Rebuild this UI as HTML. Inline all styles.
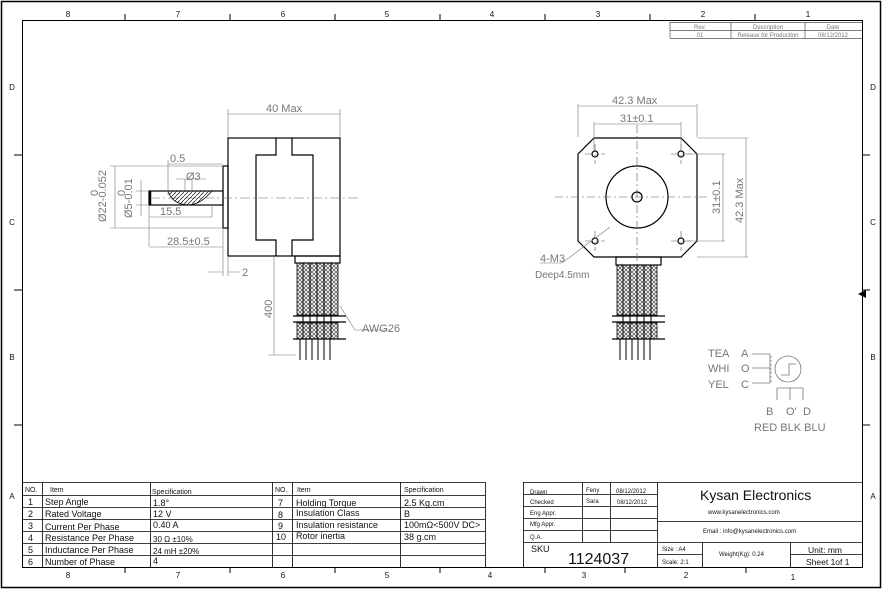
<!DOCTYPE html>
<html><head><meta charset="utf-8"><style>
html,body{margin:0;padding:0;background:#fff}
svg{display:block}
text{font-family:"Liberation Sans",sans-serif}
.g{fill:#777}
.k{fill:#111}
</style></head><body>
<svg width="883" height="589" viewBox="0 0 883 589" xmlns="http://www.w3.org/2000/svg">
<defs>
<pattern id="xh" width="4" height="4" patternUnits="userSpaceOnUse">
<path d="M0 0L4 4M4 0L0 4" stroke="#444" stroke-width="0.7"/>
</pattern>
<pattern id="hh" width="4" height="4" patternUnits="userSpaceOnUse">
<path d="M0 4L4 0" stroke="#333" stroke-width="0.8"/>
</pattern>
</defs>
<rect x="1.5" y="1.5" width="879" height="586" fill="none" stroke="#000" stroke-width="1.5"/>
<rect x="22.5" y="20.5" width="840" height="547" fill="none" stroke="#000" stroke-width="1"/>
<g font-size="8" class="k" text-anchor="middle">
<text x="68" y="17">8</text><text x="178" y="17">7</text><text x="283" y="17">6</text><text x="387" y="17">5</text><text x="492" y="17">4</text><text x="598" y="17">3</text><text x="703" y="17">2</text><text x="808" y="17">1</text>
<text x="68" y="578">8</text><text x="178" y="578">7</text><text x="283" y="578">6</text><text x="387" y="578">5</text><text x="490" y="578">4</text><text x="584" y="578">3</text><text x="686" y="578">2</text><text x="793" y="580">1</text>
<text x="12" y="90">D</text><text x="12" y="225">C</text><text x="12" y="360">B</text><text x="12" y="499">A</text>
<text x="873" y="90">D</text><text x="873" y="225">C</text><text x="873" y="360">B</text><text x="873" y="499">A</text>
</g>
<g stroke="#000" stroke-width="1">
<path d="M125 14V20M230 14V20M335 14V20M440 14V20M545 14V20M650 14V20M755 14V20"/>
<path d="M125 567V573M230 567V573M335 567V573M440 567V573M545 567V573M625 567V573M746 567V573"/>
<path d="M14 155H22M14 290H22M14 425H22M862 155H870M862 290H870M862 425H870"/>
</g>
<g stroke="#555" stroke-width="0.7" fill="none">
<path d="M670 22.5H862M670 30.5H862M670 38.5H862M670 22V38M731 22V38M805 22V38"/>
</g>
<g font-size="6" class="g" text-anchor="middle">
<text x="700" y="29">Rev.</text><text x="768" y="29">Description</text><text x="833" y="29">Date</text>
<text x="700" y="37">01</text><text x="768" y="37">Release for Production</text><text x="833" y="37">08/12/2012</text>
</g>

<g stroke="#000" stroke-width="1.2" fill="none">
<rect x="228" y="138" width="112" height="118"/>
<path d="M276 138V155H256V240H276V256M292 138V155H313V240H292V256"/>
<rect x="223" y="166" width="5" height="62"/>
<rect x="149" y="191" width="74" height="14"/>
<path d="M150 191V205" stroke-width="2.5"/>
<rect x="295" y="256" width="45" height="7"/>
</g>
<path d="M168 191H212Q200 205 188 205Q172 204 168 191Z" fill="url(#hh)" stroke="#000" stroke-width="0.8"/>
<path d="M150 198H360" stroke="#666" stroke-width="0.6" stroke-dasharray="10 3 2 3"/>
<g>
<rect x="297" y="263" width="41" height="52" fill="url(#xh)" stroke="#000" stroke-width="0.8"/>
<rect x="297" y="323" width="41" height="16" fill="url(#xh)" stroke="#000" stroke-width="0.8"/>
<path d="M303 263V339M310 263V339M317 263V339M324 263V339M331 263V339" stroke="#000" stroke-width="1"/>
<path d="M293 316H346M293 322H346M293 339H346" stroke="#000" stroke-width="1.2"/>
<path d="M300 339V360M306 339V360M312 339V360M318 339V360M324 339V360M330 339V360" stroke="#000" stroke-width="1"/>
</g>
<g stroke="#777" stroke-width="0.6" fill="none">
<path d="M228 109V137M340 109V137M228 114H340"/>
<path d="M168 160V195M168 164H223"/>
<path d="M176 179H206M185 179V190M192 179V190"/>
<path d="M149 206V246M212 205V217M149 217H212"/>
<path d="M223 229V276M228 257V276M149 247H223"/>
<path d="M208 272H223M228 272H240"/>
<path d="M110 166H223M110 228H223M115 166V228"/>
<path d="M136 191H149M136 205H149M141 180V216"/>
<path d="M274 257V355M268 355H296"/>
<path d="M340 306L355 330H390"/>
</g>
<g font-size="11" class="g">
<text x="266" y="112">40 Max</text>
<text x="170" y="162">0.5</text>
<text x="186" y="180">Ø3</text>
<text x="160" y="215">15.5</text>
<text x="167" y="245">28.5±0.5</text>
<text x="242" y="276">2</text>
<text x="362" y="332">AWG26</text>
<text transform="translate(272 318) rotate(-90)">400</text>
<text transform="translate(106 222) rotate(-90)">Ø22-0.052</text>
<text transform="translate(98 196) rotate(-90)">0</text>
<text transform="translate(132 218) rotate(-90)">Ø5-0.01</text>
<text transform="translate(125 196) rotate(-90)">0</text>
</g>

<g stroke="#000" stroke-width="1.2" fill="none">
<path d="M594 138H681L697 154V241L681 257H594L578 241V154Z"/>
<circle cx="637" cy="197" r="31"/>
<circle cx="637" cy="197" r="5"/>
<circle cx="595" cy="154" r="3"/><circle cx="681" cy="154" r="3"/>
<circle cx="595" cy="241" r="3"/><circle cx="681" cy="241" r="3"/>
<rect x="616" y="257" width="45" height="8"/>
</g>
<g stroke="#555" stroke-width="0.6" stroke-dasharray="8 3 2 3" fill="none">
<path d="M555 197H708M637 125V270"/>
<path d="M585 154H605M595 144V164M671 154H691M681 144V164M585 241H605M595 231V251M671 241H691M681 231V251"/>
</g>
<g>
<rect x="617" y="265" width="40" height="50" fill="url(#xh)" stroke="#000" stroke-width="0.8"/>
<rect x="617" y="323" width="40" height="16" fill="url(#xh)" stroke="#000" stroke-width="0.8"/>
<path d="M623 265V339M630 265V339M637 265V339M644 265V339M651 265V339" stroke="#000" stroke-width="1"/>
<path d="M612 316H665M612 322H665M612 339H665" stroke="#000" stroke-width="1.2"/>
<path d="M620 339V360M626 339V360M632 339V360M638 339V360M644 339V360M650 339V360" stroke="#000" stroke-width="1"/>
</g>
<g stroke="#777" stroke-width="0.6" fill="none">
<path d="M578 104V137M697 104V137M578 106H697"/>
<path d="M594 122V150M681 122V150M594 124H681"/>
<path d="M685 154H725M685 241H725M723 154V241"/>
<path d="M697 138H748M697 257H748M746 138V257"/>
<path d="M540 263H562L610 227"/>
</g>
<g font-size="11" class="g">
<text x="612" y="104">42.3 Max</text>
<text x="620" y="122">31±0.1</text>
<text transform="translate(720 214) rotate(-90)">31±0.1</text>
<text transform="translate(743 223) rotate(-90)">42.3 Max</text>
<text x="540" y="262">4-M3</text>
<text x="535" y="278" font-family="Liberation Mono,monospace" font-size="10">Deep4.5mm</text>
</g>

<g font-size="11" class="g">
<text x="708" y="357">TEA</text><text x="741" y="357">A</text>
<text x="708" y="372">WHI</text><text x="741" y="372">O</text>
<text x="708" y="388">YEL</text><text x="741" y="388">C</text>
<text x="766" y="415">B</text><text x="786" y="415">O'</text><text x="803" y="415">D</text>
<text x="754" y="431">RED BLK BLU</text>
</g>
<g stroke="#777" stroke-width="0.8" fill="none">
<path d="M752 354H770M752 368H770M752 383H770M770 354V383"/>
<path d="M770 357H772M770 361H772M770 365H772M770 369H772M770 373H772M770 377H772M770 381H772"/>
<circle cx="788" cy="369" r="13"/>
<path d="M781 375H789V364H796"/>
<path d="M777 388H803M777 388V400M790 388V400M803 388V400"/>
</g>

<g stroke="#000" stroke-width="0.8" fill="none">
<path d="M22 482.5H485M22 495.5H485M22 507.5H485M22 519.5H485M22 531.5H485M22 543.5H485M22 555.5H485"/>
<path d="M42.5 482V567M150.5 482V567M272.5 482V567M292.5 482V567M400.5 482V567M485.5 482V567"/>
</g>
<g font-size="7" class="k">
<text x="25" y="492">NO.</text><text x="50" y="492">Item</text><text x="152" y="494">Specification</text>
<text x="275" y="492">NO.</text><text x="297" y="492">Item</text><text x="404" y="492">Specification</text>
</g>
<g font-size="9" class="k">
<text x="28" y="505">1</text><text x="45" y="505">Step Angle</text><text x="153" y="506">1.8°</text>
<text x="28" y="517">2</text><text x="45" y="517">Rated Voltage</text><text x="153" y="517">12 V</text>
<text x="28" y="529">3</text><text x="45" y="530">Current Per Phase</text><text x="153" y="528">0.40 A</text>
<text x="28" y="541">4</text><text x="45" y="541">Resistance Per Phase</text><text x="153" y="542" font-size="8">30 Ω  ±10%</text>
<text x="28" y="553">5</text><text x="45" y="553">Inductance Per Phase</text><text x="153" y="554" font-size="8">24 mH ±20%</text>
<text x="28" y="565">6</text><text x="45" y="565">Number of Phase</text><text x="153" y="564">4</text>
<text x="278" y="506">7</text><text x="296" y="506">Holding Torque</text><text x="404" y="506">2.5 Kg.cm</text>
<text x="278" y="518">8</text><text x="296" y="516">Insulation Class</text><text x="404" y="517">B</text>
<text x="278" y="529">9</text><text x="296" y="528">Insulation resistance</text><text x="404" y="528">100mΩ&lt;500V DC&gt;</text>
<text x="276" y="540">10</text><text x="296" y="539">Rotor inertia</text><text x="404" y="540">38 g.cm</text>
</g>

<g stroke="#000" stroke-width="0.8" fill="none">
<path d="M523.5 482V567M523 482.5H862"/>
<path d="M523 494.5H657M523 506.5H657M523 518.5H657M523 530.5H657M523 542.5H862"/>
<path d="M582.5 482V542M610.5 482V542M657.5 482V567M657 521.5H862"/>
<path d="M702.5 542V567M790.5 542V567M657 554.5H702M790 554.5H862"/>
</g>
<g font-size="6" class="k">
<text x="530" y="494">Drawn</text><text x="530" y="504">Checked</text><text x="530" y="515">Eng Appr.</text>
<text x="530" y="526">Mfg Appr.</text><text x="530" y="539">Q.A.</text>
<text x="586" y="492">Feny</text><text x="586" y="503">Sara</text>
<text x="616" y="493">08/12/2012</text><text x="617" y="504">08/12/2012</text>
<text x="708" y="514" font-size="6">www.kysanelectronics.com</text>
<text x="703" y="533">Email : info@kysanelectronics.com</text>
<text x="662" y="551">Size : A4</text><text x="662" y="564">Scale: 2:1</text>
<text x="719" y="556">Weight(Kg):  0.24</text>
</g>
<text x="700" y="500" font-size="14" class="k">Kysan Electronics</text>
<text x="531" y="552" font-size="9" class="k">SKU</text>
<text x="568" y="564" font-size="16" class="k">1124037</text>
<text x="808" y="553" font-size="8.5" class="k">Unit: mm</text>
<text x="806" y="565" font-size="8.5" class="k">Sheet 1of 1</text>
<path d="M858 294L866 290L866 298Z" fill="#000"/>
</svg>
</body></html>
